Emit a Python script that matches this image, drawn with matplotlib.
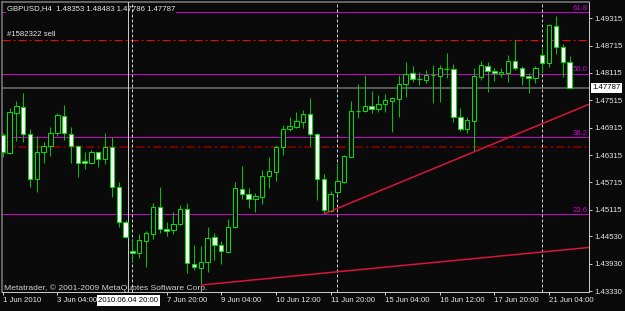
import matplotlib
matplotlib.use('Agg')
import matplotlib.pyplot as plt
import numpy as np
from matplotlib.patches import Rectangle
from matplotlib.transforms import blended_transform_factory as btf

plt.rcParams['font.family'] = ['Liberation Sans', 'DejaVu Sans']

# ---------------- data ----------------
symbol_text = "GBPUSD,H4  1.48353 1.48483 1.47786 1.47787"
copyright_text = "Metatrader, \u00a9 2001-2009 MetaQuotes Software Corp."

opens = [1.46754, 1.46366, 1.47244, 1.47375, 1.46776, 1.45782, 1.46375, 1.46513, 1.46792, 1.47165,
         1.46770, 1.46513, 1.46184, 1.46140, 1.46381, 1.46234, 1.46497, 1.45620, 1.44851, 1.44215,
         1.44171, 1.44434, 1.44581, 1.45167, 1.44698, 1.44669, 1.44801, 1.45130, 1.43916, 1.43842,
         1.43960, 1.44509, 1.44340, 1.44193, 1.44728, 1.45569, 1.45459, 1.45356, 1.45387, 1.45854,
         1.45949, 1.46497, 1.46879, 1.46936, 1.47046, 1.47208, 1.46770, 1.45782, 1.45093, 1.45510,
         1.45729, 1.46278, 1.47281, 1.47288, 1.47391, 1.47318, 1.47428, 1.47500, 1.47551, 1.47880,
         1.48108, 1.47977, 1.47968, 1.48071, 1.48056, 1.48203, 1.48196, 1.47143, 1.46879, 1.47068,
         1.48034, 1.48275, 1.48159, 1.48100, 1.48122, 1.48385, 1.48218, 1.48049, 1.48005, 1.48510,
         1.48341, 1.49153, 1.48692, 1.48353]
highs = [1.46798, 1.47353, 1.47500, 1.47683, 1.46879, 1.46739, 1.46607, 1.46923, 1.47230, 1.47413,
         1.46923, 1.46535, 1.46375, 1.46425, 1.46392, 1.46792, 1.46704, 1.45729, 1.44889, 1.44450,
         1.44575, 1.44647, 1.45255, 1.45606, 1.44851, 1.45064, 1.45218, 1.45255, 1.44340, 1.44325,
         1.44742, 1.44597, 1.44428, 1.44911, 1.45716, 1.46074, 1.45584, 1.45475, 1.45986, 1.46278,
         1.46528, 1.46974, 1.47149, 1.47266, 1.47303, 1.47560, 1.46798, 1.45898, 1.45525, 1.46133,
         1.46315, 1.47507, 1.47867, 1.48071, 1.47720, 1.47632, 1.47654, 1.47582, 1.48071, 1.48350,
         1.48275, 1.48143, 1.48181, 1.48290, 1.48284, 1.48547, 1.48312, 1.47340, 1.47143, 1.48218,
         1.48378, 1.48350, 1.48218, 1.48218, 1.48510, 1.48833, 1.48275, 1.48122, 1.48275, 1.48657,
         1.49184, 1.49366, 1.48751, 1.48483]
lows = [1.46278, 1.46348, 1.46623, 1.46607, 1.45620, 1.45497, 1.46146, 1.46300, 1.46739, 1.46644,
        1.46146, 1.45839, 1.46001, 1.46120, 1.46058, 1.46118, 1.45400, 1.44728, 1.44487, 1.43973,
        1.44048, 1.43851, 1.44465, 1.44597, 1.44538, 1.44575, 1.44772, 1.43719, 1.43791, 1.43462,
        1.43754, 1.44011, 1.43923, 1.44158, 1.44707, 1.45350, 1.45159, 1.45064, 1.45240, 1.45584,
        1.45745, 1.46315, 1.46849, 1.46901, 1.46901, 1.46513, 1.45328, 1.45020, 1.45071, 1.45459,
        1.45707, 1.46271, 1.47134, 1.47270, 1.47244, 1.47266, 1.47266, 1.46827, 1.47143, 1.47595,
        1.47924, 1.47852, 1.47889, 1.47463, 1.47485, 1.47999, 1.47033, 1.46849, 1.46805, 1.46410,
        1.47961, 1.47705, 1.47946, 1.48021, 1.47924, 1.48181, 1.47852, 1.47683, 1.47889, 1.48108,
        1.48253, 1.48525, 1.48034, 1.47786]
closes = [1.46388, 1.47266, 1.47391, 1.46770, 1.45782, 1.46375, 1.46519, 1.46792, 1.47187, 1.46792,
          1.46513, 1.46146, 1.46133, 1.46381, 1.46234, 1.46497, 1.45620, 1.44851, 1.44509, 1.44171,
          1.44450, 1.44597, 1.45167, 1.44698, 1.44654, 1.44801, 1.45130, 1.43938, 1.43851, 1.43960,
          1.44487, 1.44340, 1.44215, 1.44742, 1.45584, 1.45459, 1.45350, 1.45415, 1.45861, 1.45964,
          1.46497, 1.46886, 1.46952, 1.47061, 1.47215, 1.46770, 1.45782, 1.45108, 1.45459, 1.45745,
          1.46293, 1.47281, 1.47280, 1.47391, 1.47318, 1.47435, 1.47516, 1.47560, 1.47880, 1.48086,
          1.47983, 1.47976, 1.48071, 1.48070, 1.48218, 1.48196, 1.47156, 1.46879, 1.47083, 1.48049,
          1.48290, 1.48159, 1.48108, 1.48143, 1.48385, 1.48218, 1.48049, 1.48005, 1.48218, 1.48341,
          1.49168, 1.48692, 1.48353, 1.47787]

time_tick_bars = [0, 8, 24, 32, 40, 48, 56, 64, 72, 80]
time_tick_labels = ["1 Jun 2010", "3 Jun 04:00", "7 Jun 20:00", "9 Jun 04:00", "10 Jun 12:00",
                    "11 Jun 20:00", "15 Jun 04:00", "16 Jun 12:00", "17 Jun 20:00", "21 Jun 04:00"]
price_ticks = [1.49315, 1.48715, 1.48115, 1.47515, 1.46915, 1.46315, 1.45715, 1.45115,
               1.44530, 1.43930, 1.43330]

fib_names = ["61.8", "50.0", "38.2", "23.6"]
fib_prices = [1.49453, 1.48093, 1.46710, 1.45020]
sell_label = "#1582322 sell"
sell_price = 1.48833
stop_price = 1.46497
bid_price = 1.47787
separator_bars = [19, 49, 79]
cursor_bar = 18.4
cursor_label = "2010.06.04 20:00"
trend1_bars = [47, 83]
trend1_prices = [1.45020, 1.47252]
trend2_bars = [29, 83]
trend2_prices = [1.43462, 1.44245]

# ---------------- style ----------------
W, H = 625, 311
PX = 0.72            # one pixel in points at dpi 100
BG = '#0a0a0a'
FG = '#e6e6e6'
AX_COL = '#c8c8c8'
WICK = '#00c400'
EDGE = '#00e000'
MAG = '#cc00cc'
FS = 5.6

fig = plt.figure(figsize=(W / 100, H / 100), dpi=100, facecolor=BG)
L, R, T, B = 2, 589, 2, 292
ax = fig.add_axes([L / W, 1 - B / H, (R - L) / W, (B - T) / H])
ax.set_facecolor(BG)
XMIN, XMAX = -0.1, 85.84
ax.set_xlim(XMIN, XMAX)
ax.set_ylim(1.43309, 1.49673)

for s in ['left', 'top']:
    ax.spines[s].set_color('#808080')
    ax.spines[s].set_linewidth(1.5 * PX)
for s in ['right', 'bottom']:
    ax.spines[s].set_color(AX_COL)
    ax.spines[s].set_linewidth(PX)

# price axis
ax.yaxis.tick_right()
ax.set_yticks(price_ticks)
ax.set_yticklabels([f"{p:.5f}" for p in price_ticks])
ax.tick_params(axis='y', direction='out', length=3 * PX, width=PX, color=AX_COL,
               labelcolor=FG, labelsize=FS, pad=2 * PX)
# time axis
ax.set_xticks(time_tick_bars)
ax.set_xticklabels(time_tick_labels)
for lab in ax.get_xticklabels():
    lab.set_ha('left')
ax.tick_params(axis='x', direction='out', length=3 * PX, width=PX, color=AX_COL,
               labelcolor=FG, labelsize=FS, pad=2 * PX)

ydata_xaxes = btf(ax.transAxes, ax.transData)
xdata_yaxes = btf(ax.transData, ax.transAxes)

# fibonacci levels
for name, p in zip(fib_names, fib_prices):
    ax.axhline(p, color=MAG, lw=PX, zorder=2)
    ax.annotate(name, xy=(1, p), xycoords=ydata_xaxes, xytext=(-1 * PX, 0.5 * PX),
                textcoords='offset points', ha='right', va='bottom', color=MAG,
                fontsize=FS, zorder=2)

# order lines
ax.axhline(sell_price, color='#ff0000', lw=PX, ls=(0, (8, 3, 2, 3)), zorder=2)
ax.axhline(stop_price, color='#8c0000', lw=1.6 * PX, ls=(0, (5, 2, 1.5, 2)), zorder=2)
ax.annotate(sell_label, xy=(0, sell_price), xycoords=ydata_xaxes, xytext=(5 * PX, 2 * PX),
            textcoords='offset points', ha='left', va='bottom', color=FG, fontsize=FS, zorder=6)

# bid line
ax.axhline(bid_price, color='#707070', lw=1.5 * PX, zorder=2)

# title
ax.text(7 / W, 1 - 9 / H, symbol_text, transform=fig.transFigure, ha='left', va='center',
        color=FG, fontsize=FS, zorder=2.5,
        bbox=dict(facecolor=BG, edgecolor='none', pad=0.8))

# period separators and cursor line
for b in separator_bars:
    ax.axvline(b, color='#d0d0d0', lw=PX, ls=(0, (3, 2)), zorder=3)
ax.axvline(cursor_bar, color='#c8c8c8', lw=PX, zorder=3)

# trend lines (rays to the right edge)
for bars, prices in [(trend1_bars, trend1_prices), (trend2_bars, trend2_prices)]:
    slope = (prices[1] - prices[0]) / (bars[1] - bars[0])
    xe = XMAX
    ye = prices[0] + slope * (xe - bars[0])
    ax.plot([bars[0], xe], [prices[0], ye], color='#dc143c', lw=1.5 * PX, zorder=5,
            solid_capstyle='butt')

# candles
bw = 0.64
for i, (o, h, l, c) in enumerate(zip(opens, highs, lows, closes)):
    ax.vlines(i, l, h, color=WICK, lw=PX, zorder=3.5)
    if abs(c - o) > 0.00002:
        face = '#ffffff' if c < o else BG
        ax.add_patch(Rectangle((i - bw / 2, min(o, c)), bw, abs(c - o), facecolor=face,
                               edgecolor=EDGE, lw=PX, zorder=4))
    else:
        ax.hlines(o, i - bw / 2, i + bw / 2, color=EDGE, lw=1.2 * PX, zorder=4)

# copyright
ax.text(4 / W, 1 - 288 / H, copyright_text, transform=fig.transFigure, ha='left',
        va='center', color='#d0d0d0', fontsize=6.1, zorder=6)

# cursor time label
ax.annotate(cursor_label, xy=(cursor_bar, 0), xycoords=xdata_yaxes, xytext=(0, -8.5 * PX),
            textcoords='offset points', ha='center', va='center', color='black', fontsize=FS,
            annotation_clip=False, zorder=10,
            bbox=dict(facecolor='white', edgecolor='none', pad=1.2))

# bid price label
ax.annotate(f"{bid_price:.5f}", xy=(1, bid_price), xycoords=ydata_xaxes, xytext=(3.5 * PX, 0),
            textcoords='offset points', ha='left', va='center', color='black', fontsize=FS,
            annotation_clip=False, zorder=10,
            bbox=dict(facecolor='white', edgecolor='none', pad=1.0))

fig.savefig('out.png', dpi=100, facecolor=BG)
